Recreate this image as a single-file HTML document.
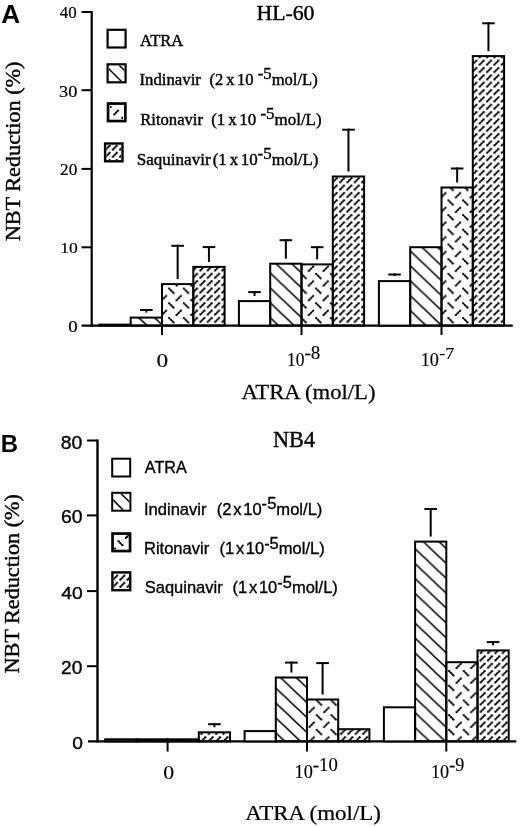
<!DOCTYPE html>
<html><head><meta charset="utf-8"><title>Figure</title>
<style>html,body{margin:0;padding:0;background:#fff;width:520px;height:827px;overflow:hidden}svg{display:block;will-change:transform}</style>
</head><body>
<svg width="520" height="827" viewBox="0 0 520 827">
<rect x="0" y="0" width="520" height="827" fill="#fff"/>
<defs>
<pattern id="pi1" patternUnits="userSpaceOnUse" x="0" y="7.00" width="15.684" height="14.900"><path d="M-2,-1.90 L17.68,16.80 M-2,13.00 L2,16.80 M13.68,-1.90 L17.68,1.90" stroke="#000" stroke-width="1.6" fill="none"/></pattern>
<pattern id="pi2" patternUnits="userSpaceOnUse" x="0" y="1.40" width="15.684" height="14.900"><path d="M-2,-1.90 L17.68,16.80 M-2,13.00 L2,16.80 M13.68,-1.90 L17.68,1.90" stroke="#000" stroke-width="1.6" fill="none"/></pattern>
<pattern id="pi3" patternUnits="userSpaceOnUse" x="0" y="10.20" width="15.684" height="14.900"><path d="M-2,-1.90 L17.68,16.80 M-2,13.00 L2,16.80 M13.68,-1.90 L17.68,1.90" stroke="#000" stroke-width="1.6" fill="none"/></pattern>
<pattern id="pr4" patternUnits="userSpaceOnUse" x="13.25" y="15.10" width="14.700" height="14.700"><path d="M1.50,6.00 L6.00,1.50" stroke="#000" stroke-width="1.4" fill="none"/><circle cx="1.50" cy="6.00" r="1.1"/><circle cx="3.75" cy="3.75" r="0.99"/><circle cx="6.00" cy="1.50" r="1.1"/><path d="M8.85,8.85 L13.35,13.35" stroke="#000" stroke-width="1.4" fill="none"/><circle cx="8.85" cy="8.85" r="1.1"/><circle cx="11.10" cy="11.10" r="0.99"/><circle cx="13.35" cy="13.35" r="1.1"/></pattern>
<pattern id="ps5" patternUnits="userSpaceOnUse" x="0.80" y="0.75" width="7.350" height="7.350"><path d="M1.20,5.10 L5.10,1.20" stroke="#000" stroke-width="1.4" fill="none"/><circle cx="1.20" cy="5.10" r="1.1"/><circle cx="3.15" cy="3.15" r="0.99"/><circle cx="5.10" cy="1.20" r="1.1"/></pattern>
<clipPath id="lc1"><rect x="108.70" y="30.90" width="15.80" height="15.50"/></clipPath>
<clipPath id="lc2"><rect x="108.70" y="65.40" width="15.80" height="15.80"/></clipPath>
<clipPath id="lc3"><rect x="109.40" y="104.90" width="14.60" height="14.80"/></clipPath>
<pattern id="ps6" patternUnits="userSpaceOnUse" x="111.70" y="144.50" width="7.200" height="7.200"><path d="M1.20,5.10 L5.10,1.20" stroke="#000" stroke-width="1.4" fill="none"/><circle cx="1.20" cy="5.10" r="1.1"/><circle cx="3.15" cy="3.15" r="0.99"/><circle cx="5.10" cy="1.20" r="1.1"/></pattern>
<clipPath id="lc4"><rect x="106.30" y="144.70" width="15.00" height="15.40"/></clipPath>
<pattern id="pi7" patternUnits="userSpaceOnUse" x="0" y="5.40" width="15.684" height="14.900"><path d="M-2,-1.90 L17.68,16.80 M-2,13.00 L2,16.80 M13.68,-1.90 L17.68,1.90" stroke="#000" stroke-width="1.6" fill="none"/></pattern>
<pattern id="pi8" patternUnits="userSpaceOnUse" x="0" y="8.80" width="15.684" height="14.900"><path d="M-2,-1.90 L17.68,16.80 M-2,13.00 L2,16.80 M13.68,-1.90 L17.68,1.90" stroke="#000" stroke-width="1.6" fill="none"/></pattern>
<pattern id="pi9" patternUnits="userSpaceOnUse" x="0" y="5.40" width="15.684" height="14.900"><path d="M-2,-1.90 L17.68,16.80 M-2,13.00 L2,16.80 M13.68,-1.90 L17.68,1.90" stroke="#000" stroke-width="1.6" fill="none"/></pattern>
<pattern id="pr10" patternUnits="userSpaceOnUse" x="13.90" y="15.40" width="14.700" height="14.700"><path d="M1.50,6.00 L6.00,1.50" stroke="#000" stroke-width="1.4" fill="none"/><circle cx="1.50" cy="6.00" r="1.1"/><circle cx="3.75" cy="3.75" r="0.99"/><circle cx="6.00" cy="1.50" r="1.1"/><path d="M8.85,8.85 L13.35,13.35" stroke="#000" stroke-width="1.4" fill="none"/><circle cx="8.85" cy="8.85" r="1.1"/><circle cx="11.10" cy="11.10" r="0.99"/><circle cx="13.35" cy="13.35" r="1.1"/></pattern>
<pattern id="ps11" patternUnits="userSpaceOnUse" x="1.75" y="1.15" width="7.350" height="7.350"><path d="M1.20,5.10 L5.10,1.20" stroke="#000" stroke-width="1.4" fill="none"/><circle cx="1.20" cy="5.10" r="1.1"/><circle cx="3.15" cy="3.15" r="0.99"/><circle cx="5.10" cy="1.20" r="1.1"/></pattern>
<clipPath id="lc5"><rect x="113.20" y="459.70" width="16.00" height="15.80"/></clipPath>
<clipPath id="lc6"><rect x="113.20" y="493.80" width="16.20" height="15.90"/></clipPath>
<clipPath id="lc7"><rect x="113.90" y="534.90" width="14.80" height="14.80"/></clipPath>
<pattern id="ps12" patternUnits="userSpaceOnUse" x="119.20" y="574.50" width="7.200" height="7.200"><path d="M1.20,5.10 L5.10,1.20" stroke="#000" stroke-width="1.4" fill="none"/><circle cx="1.20" cy="5.10" r="1.1"/><circle cx="3.15" cy="3.15" r="0.99"/><circle cx="5.10" cy="1.20" r="1.1"/></pattern>
<clipPath id="lc8"><rect x="113.60" y="573.60" width="15.40" height="15.40"/></clipPath>
</defs>
<line x1="91.70" y1="11.00" x2="91.70" y2="326.80" stroke="#000" stroke-width="2.2"/>
<line x1="81.50" y1="12.00" x2="91.70" y2="12.00" stroke="#000" stroke-width="2"/>
<line x1="81.50" y1="90.20" x2="91.70" y2="90.20" stroke="#000" stroke-width="2"/>
<line x1="81.50" y1="168.90" x2="91.70" y2="168.90" stroke="#000" stroke-width="2"/>
<line x1="81.50" y1="247.30" x2="91.70" y2="247.30" stroke="#000" stroke-width="2"/>
<line x1="81.50" y1="325.60" x2="512.80" y2="325.60" stroke="#000" stroke-width="2.4"/>
<rect x="99.40" y="324.60" width="31.30" height="1.00" fill="#fff" stroke="#000" stroke-width="2"/>
<rect x="130.70" y="317.60" width="31.30" height="8.00" fill="url(#pi1)" stroke="#000" stroke-width="2"/>
<line x1="146.35" y1="309.00" x2="146.35" y2="312.60" stroke="#000" stroke-width="2"/>
<line x1="140.05" y1="310.00" x2="152.65" y2="310.00" stroke="#000" stroke-width="2"/>
<rect x="162.00" y="284.10" width="31.30" height="41.50" fill="url(#pr4)" stroke="#000" stroke-width="2"/>
<line x1="177.65" y1="244.80" x2="177.65" y2="279.10" stroke="#000" stroke-width="2"/>
<line x1="171.35" y1="245.80" x2="183.95" y2="245.80" stroke="#000" stroke-width="2"/>
<rect x="193.30" y="266.90" width="31.30" height="58.70" fill="url(#ps5)" stroke="#000" stroke-width="2"/>
<line x1="208.95" y1="246.10" x2="208.95" y2="261.90" stroke="#000" stroke-width="2"/>
<line x1="202.65" y1="247.10" x2="215.25" y2="247.10" stroke="#000" stroke-width="2"/>
<line x1="162.00" y1="325.60" x2="162.00" y2="335.00" stroke="#000" stroke-width="2"/>
<rect x="238.90" y="301.10" width="31.30" height="24.50" fill="#fff" stroke="#000" stroke-width="2"/>
<line x1="254.55" y1="291.10" x2="254.55" y2="296.10" stroke="#000" stroke-width="2"/>
<line x1="248.25" y1="292.10" x2="260.85" y2="292.10" stroke="#000" stroke-width="2"/>
<rect x="270.20" y="263.70" width="31.30" height="61.90" fill="url(#pi2)" stroke="#000" stroke-width="2"/>
<line x1="285.85" y1="239.20" x2="285.85" y2="258.70" stroke="#000" stroke-width="2"/>
<line x1="279.55" y1="240.20" x2="292.15" y2="240.20" stroke="#000" stroke-width="2"/>
<rect x="301.50" y="264.40" width="31.30" height="61.20" fill="url(#pr4)" stroke="#000" stroke-width="2"/>
<line x1="317.15" y1="246.20" x2="317.15" y2="259.40" stroke="#000" stroke-width="2"/>
<line x1="310.85" y1="247.20" x2="323.45" y2="247.20" stroke="#000" stroke-width="2"/>
<rect x="332.80" y="176.50" width="31.30" height="149.10" fill="url(#ps5)" stroke="#000" stroke-width="2"/>
<line x1="348.45" y1="128.70" x2="348.45" y2="171.50" stroke="#000" stroke-width="2"/>
<line x1="342.15" y1="129.70" x2="354.75" y2="129.70" stroke="#000" stroke-width="2"/>
<line x1="301.50" y1="325.60" x2="301.50" y2="335.00" stroke="#000" stroke-width="2"/>
<rect x="378.90" y="281.10" width="31.30" height="44.50" fill="#fff" stroke="#000" stroke-width="2"/>
<line x1="394.55" y1="273.50" x2="394.55" y2="276.10" stroke="#000" stroke-width="2"/>
<line x1="388.25" y1="274.50" x2="400.85" y2="274.50" stroke="#000" stroke-width="2"/>
<rect x="410.20" y="247.20" width="31.30" height="78.40" fill="url(#pi3)" stroke="#000" stroke-width="2"/>
<rect x="441.50" y="187.50" width="31.30" height="138.10" fill="url(#pr4)" stroke="#000" stroke-width="2"/>
<line x1="457.15" y1="167.50" x2="457.15" y2="182.50" stroke="#000" stroke-width="2"/>
<line x1="450.85" y1="168.50" x2="463.45" y2="168.50" stroke="#000" stroke-width="2"/>
<rect x="472.80" y="56.10" width="31.30" height="269.50" fill="url(#ps5)" stroke="#000" stroke-width="2"/>
<line x1="488.45" y1="22.30" x2="488.45" y2="51.10" stroke="#000" stroke-width="2"/>
<line x1="482.15" y1="23.30" x2="494.75" y2="23.30" stroke="#000" stroke-width="2"/>
<line x1="441.50" y1="325.60" x2="441.50" y2="335.00" stroke="#000" stroke-width="2"/>
<rect x="107.60" y="29.80" width="18.00" height="17.70" fill="#fff" stroke="#000" stroke-width="2.2"/>
<rect x="107.60" y="64.30" width="18.00" height="18.00" fill="#fff" stroke="#000" stroke-width="2.2"/>
<g clip-path="url(#lc2)"><path d="M100.00,60.00 L135.00,95.00" stroke="#000" stroke-width="1.5"/><path d="M100.00,46.00 L135.00,81.00" stroke="#000" stroke-width="1.5"/></g>
<rect x="108.05" y="103.55" width="17.30" height="17.50" fill="#fff" stroke="#000" stroke-width="2.7"/>
<g clip-path="url(#lc3)"><circle cx="110.80" cy="107.00" r="1.05"/><path d="M114.20,114.50 L118.20,110.50" stroke="#000" stroke-width="1.4" fill="none"/><circle cx="114.20" cy="114.50" r="1.1"/><circle cx="116.20" cy="112.50" r="0.99"/><circle cx="118.20" cy="110.50" r="1.1"/><circle cx="122.20" cy="117.90" r="1.05"/></g>
<rect x="105.10" y="143.50" width="17.40" height="17.80" fill="#fff" stroke="#000" stroke-width="2.4"/>
<g clip-path="url(#lc4)"><rect x="100" y="140" width="30" height="30" fill="url(#ps6)"/></g>
<line x1="97.50" y1="439.50" x2="97.50" y2="742.60" stroke="#000" stroke-width="2.4"/>
<line x1="87.00" y1="440.50" x2="97.50" y2="440.50" stroke="#000" stroke-width="2"/>
<line x1="87.00" y1="515.40" x2="97.50" y2="515.40" stroke="#000" stroke-width="2"/>
<line x1="87.00" y1="591.10" x2="97.50" y2="591.10" stroke="#000" stroke-width="2"/>
<line x1="87.00" y1="666.20" x2="97.50" y2="666.20" stroke="#000" stroke-width="2"/>
<line x1="88.00" y1="741.40" x2="516.30" y2="741.40" stroke="#000" stroke-width="2.4"/>
<rect x="105.20" y="739.30" width="31.20" height="2.10" fill="#fff" stroke="#000" stroke-width="2"/>
<rect x="136.40" y="739.30" width="31.20" height="2.10" fill="url(#pi7)" stroke="#000" stroke-width="2"/>
<rect x="167.60" y="739.30" width="31.20" height="2.10" fill="url(#pr10)" stroke="#000" stroke-width="2"/>
<rect x="198.80" y="732.30" width="31.20" height="9.10" fill="url(#ps11)" stroke="#000" stroke-width="2"/>
<line x1="214.40" y1="723.20" x2="214.40" y2="727.30" stroke="#000" stroke-width="2"/>
<line x1="208.10" y1="724.20" x2="220.70" y2="724.20" stroke="#000" stroke-width="2"/>
<line x1="167.60" y1="741.40" x2="167.60" y2="751.50" stroke="#000" stroke-width="2"/>
<rect x="244.60" y="731.10" width="31.20" height="10.30" fill="#fff" stroke="#000" stroke-width="2"/>
<rect x="275.80" y="677.50" width="31.20" height="63.90" fill="url(#pi8)" stroke="#000" stroke-width="2"/>
<line x1="291.40" y1="661.60" x2="291.40" y2="672.50" stroke="#000" stroke-width="2"/>
<line x1="285.10" y1="662.60" x2="297.70" y2="662.60" stroke="#000" stroke-width="2"/>
<rect x="307.00" y="699.50" width="31.20" height="41.90" fill="url(#pr10)" stroke="#000" stroke-width="2"/>
<line x1="322.60" y1="662.10" x2="322.60" y2="694.50" stroke="#000" stroke-width="2"/>
<line x1="316.30" y1="663.10" x2="328.90" y2="663.10" stroke="#000" stroke-width="2"/>
<rect x="338.20" y="729.20" width="31.20" height="12.20" fill="url(#ps11)" stroke="#000" stroke-width="2"/>
<line x1="307.00" y1="741.40" x2="307.00" y2="751.50" stroke="#000" stroke-width="2"/>
<rect x="383.90" y="707.30" width="31.20" height="34.10" fill="#fff" stroke="#000" stroke-width="2"/>
<rect x="415.10" y="541.60" width="31.20" height="199.80" fill="url(#pi9)" stroke="#000" stroke-width="2"/>
<line x1="430.70" y1="508.00" x2="430.70" y2="536.60" stroke="#000" stroke-width="2"/>
<line x1="424.40" y1="509.00" x2="437.00" y2="509.00" stroke="#000" stroke-width="2"/>
<rect x="446.30" y="662.20" width="31.20" height="79.20" fill="url(#pr10)" stroke="#000" stroke-width="2"/>
<rect x="477.50" y="650.40" width="31.20" height="91.00" fill="url(#ps11)" stroke="#000" stroke-width="2"/>
<line x1="493.10" y1="641.10" x2="493.10" y2="645.40" stroke="#000" stroke-width="2"/>
<line x1="486.80" y1="642.10" x2="499.40" y2="642.10" stroke="#000" stroke-width="2"/>
<line x1="446.30" y1="741.40" x2="446.30" y2="751.50" stroke="#000" stroke-width="2"/>
<rect x="112.20" y="458.70" width="18.00" height="17.80" fill="#fff" stroke="#000" stroke-width="2.0"/>
<rect x="112.20" y="492.80" width="18.20" height="17.90" fill="#fff" stroke="#000" stroke-width="2.0"/>
<g clip-path="url(#lc6)"><path d="M100.00,486.90 L140.00,526.90" stroke="#000" stroke-width="1.5"/><path d="M100.00,472.50 L140.00,512.50" stroke="#000" stroke-width="1.5"/></g>
<rect x="112.55" y="533.55" width="17.50" height="17.50" fill="#fff" stroke="#000" stroke-width="2.7"/>
<g clip-path="url(#lc7)"><path d="M118.40,541.10 L122.40,545.20" stroke="#000" stroke-width="1.4" fill="none"/><circle cx="118.40" cy="541.10" r="1.1"/><circle cx="120.40" cy="543.15" r="0.99"/><circle cx="122.40" cy="545.20" r="1.1"/><path d="M125.90,537.90 L128.70,535.20" stroke="#000" stroke-width="1.4" fill="none"/><circle cx="125.90" cy="537.90" r="1.1"/><circle cx="127.30" cy="536.55" r="0.99"/><circle cx="128.70" cy="535.20" r="1.1"/><circle cx="115.00" cy="548.60" r="1.05"/></g>
<rect x="112.40" y="572.40" width="17.80" height="17.80" fill="#fff" stroke="#000" stroke-width="2.4"/>
<g clip-path="url(#lc8)"><rect x="105" y="565" width="30" height="30" fill="url(#ps12)"/></g>
<text transform="translate(1.24,22.80) scale(1.0176,1)" font-size="25.74" font-family="Liberation Sans, sans-serif" font-weight="bold">A</text>
<text transform="translate(256.40,20.30) scale(1.0071,1)" font-size="21.64" font-family="Liberation Serif, serif" stroke="#000" stroke-width="0.4">HL-60</text>
<text transform="translate(59.73,18.35) scale(1.0667,1)" font-size="15.85" font-family="Liberation Serif, serif" stroke="#000" stroke-width="0.2">40</text>
<text transform="translate(59.08,96.75) scale(1.0968,1)" font-size="16.73" font-family="Liberation Serif, serif" stroke="#000" stroke-width="0.2">30</text>
<text transform="translate(60.06,175.05) scale(1.0847,1)" font-size="15.85" font-family="Liberation Serif, serif" stroke="#000" stroke-width="0.2">20</text>
<text transform="translate(60.28,253.45) scale(1.1345,1)" font-size="15.56" font-family="Liberation Serif, serif" stroke="#000" stroke-width="0.2">10</text>
<text transform="translate(68.31,331.85) scale(1.1714,1)" font-size="16.15" font-family="Liberation Serif, serif" stroke="#000" stroke-width="0.2">0</text>
<text transform="translate(140.00,45.95) scale(1.0482,1)" font-size="15.84" font-family="Liberation Serif, serif" stroke="#000" stroke-width="0.4">ATRA</text>
<text transform="translate(139.50,85.00) scale(0.9967,1)" font-size="16.80" font-family="Liberation Serif, serif" stroke="#000" stroke-width="0.4">Indinavir</text>
<text transform="translate(140.15,124.60) scale(0.9913,1)" font-size="16.80" font-family="Liberation Serif, serif" stroke="#000" stroke-width="0.4">Ritonavir</text>
<text transform="translate(136.68,164.60) scale(1.0160,1)" font-size="16.80" font-family="Liberation Serif, serif" stroke="#000" stroke-width="0.4">Saquinavir</text>
<text transform="translate(209.51,84.80) scale(0.9889,1)" font-size="16.80" font-family="Liberation Serif, serif" stroke="#000" stroke-width="0.4">(2<tspan dx="3">x</tspan><tspan dx="2.5">10</tspan> <tspan dy="-5.5">-5</tspan><tspan dy="5.5">mol/L)</tspan></text>
<text transform="translate(211.20,124.60) scale(1.0083,1)" font-size="16.80" font-family="Liberation Serif, serif" stroke="#000" stroke-width="0.4">(1<tspan dx="3">x</tspan><tspan dx="2.5">10</tspan> <tspan dy="-5.5">-5</tspan><tspan dy="5.5">mol/L)</tspan></text>
<text transform="translate(212.70,164.60) scale(1.0043,1)" font-size="16.80" font-family="Liberation Serif, serif" stroke="#000" stroke-width="0.4">(1<tspan dx="3">x</tspan><tspan dx="2.5">10</tspan><tspan dy="-5.5">-5</tspan><tspan dy="5.5">mol/L)</tspan></text>
<text transform="translate(156.38,366.75) scale(1.2250,1)" font-size="19.00" font-family="Liberation Serif, serif" stroke="#000" stroke-width="0.15">0</text>
<text transform="translate(287.09,366.45) scale(0.9394,1)" font-size="18.56" font-family="Liberation Serif, serif" stroke="#000" stroke-width="0.15">10</text>
<text transform="translate(304.48,358.85) scale(1.0500,1)" font-size="18.07" font-family="Liberation Serif, serif" stroke="#000" stroke-width="0.15">-8</text>
<text transform="translate(420.63,366.45) scale(0.9818,1)" font-size="18.56" font-family="Liberation Serif, serif" stroke="#000" stroke-width="0.15">10</text>
<text transform="translate(439.28,358.60) scale(1.0370,1)" font-size="17.25" font-family="Liberation Serif, serif" stroke="#000" stroke-width="0.15">-7</text>
<text transform="translate(241.50,399.40) scale(1.0398,1)" font-size="21.80" font-family="Liberation Serif, serif" stroke="#000" stroke-width="0.25">ATRA (mol/L)</text>
<text transform="translate(0.76,452.30) scale(1.0246,1)" font-size="23.40" font-family="Liberation Sans, sans-serif" font-weight="bold">B</text>
<text transform="translate(273.01,447.05) scale(0.9881,1)" font-size="22.59" font-family="Liberation Serif, serif" stroke="#000" stroke-width="0.4">NB4</text>
<text transform="translate(60.65,448.55) scale(1.1081,1)" font-size="17.50" font-family="Liberation Sans, sans-serif" stroke="#000" stroke-width="0.35">80</text>
<text transform="translate(61.09,523.35) scale(1.0811,1)" font-size="17.92" font-family="Liberation Sans, sans-serif" stroke="#000" stroke-width="0.35">60</text>
<text transform="translate(61.22,598.55) scale(1.1389,1)" font-size="16.94" font-family="Liberation Sans, sans-serif" stroke="#000" stroke-width="0.35">40</text>
<text transform="translate(61.08,673.75) scale(1.0959,1)" font-size="17.50" font-family="Liberation Sans, sans-serif" stroke="#000" stroke-width="0.35">20</text>
<text transform="translate(72.24,749.25) scale(1.1176,1)" font-size="17.22" font-family="Liberation Sans, sans-serif" stroke="#000" stroke-width="0.35">0</text>
<text transform="translate(144.84,473.25) scale(0.9400,1)" font-size="17.19" font-family="Liberation Sans, sans-serif" stroke="#000" stroke-width="0.35">ATRA</text>
<text transform="translate(143.95,514.50) scale(0.9976,1)" font-size="16.60" font-family="Liberation Sans, sans-serif" stroke="#000" stroke-width="0.35">Indinavir</text>
<text transform="translate(143.95,553.90) scale(0.9969,1)" font-size="16.60" font-family="Liberation Sans, sans-serif" stroke="#000" stroke-width="0.35">Ritonavir</text>
<text transform="translate(144.70,593.00) scale(0.9942,1)" font-size="16.60" font-family="Liberation Sans, sans-serif" stroke="#000" stroke-width="0.35">Saquinavir</text>
<text transform="translate(216.75,514.60) scale(0.9986,1)" font-size="16.60" font-family="Liberation Sans, sans-serif" stroke="#000" stroke-width="0.35">(2<tspan dx="1.8">x</tspan><tspan dx="1.6">10</tspan><tspan dy="-5.3">-5</tspan><tspan dy="5.3">mol/L)</tspan></text>
<text transform="translate(219.45,553.90) scale(0.9947,1)" font-size="16.60" font-family="Liberation Sans, sans-serif" stroke="#000" stroke-width="0.35">(1<tspan dx="1.8">x</tspan><tspan dx="1.6">10</tspan><tspan dy="-5.3">-5</tspan><tspan dy="5.3">mol/L)</tspan></text>
<text transform="translate(232.55,593.00) scale(0.9957,1)" font-size="16.60" font-family="Liberation Sans, sans-serif" stroke="#000" stroke-width="0.35">(1<tspan dx="1.8">x</tspan><tspan dx="1.6">10</tspan><tspan dy="-5.3">-5</tspan><tspan dy="5.3">mol/L)</tspan></text>
<text transform="translate(163.31,778.55) scale(1.1750,1)" font-size="18.48" font-family="Liberation Serif, serif" stroke="#000" stroke-width="0.15">0</text>
<text transform="translate(294.60,778.35) scale(0.9969,1)" font-size="18.33" font-family="Liberation Serif, serif" stroke="#000" stroke-width="0.15">10</text>
<text transform="translate(312.87,771.05) scale(1.0533,1)" font-size="17.78" font-family="Liberation Serif, serif" stroke="#000" stroke-width="0.15">-10</text>
<text transform="translate(431.01,778.35) scale(0.9908,1)" font-size="18.33" font-family="Liberation Serif, serif" stroke="#000" stroke-width="0.15">10</text>
<text transform="translate(449.29,771.05) scale(1.0182,1)" font-size="17.78" font-family="Liberation Serif, serif" stroke="#000" stroke-width="0.15">-9</text>
<text transform="translate(245.20,820.40) scale(1.0531,1)" font-size="21.80" font-family="Liberation Serif, serif" stroke="#000" stroke-width="0.25">ATRA (mol/L)</text>
<text transform="translate(20.00,241.36) rotate(-90) scale(1.0111,1)" font-size="22" font-family="Liberation Serif, serif" stroke="#000" stroke-width="0.4">NBT Reduction (%)</text>
<text transform="translate(19.30,673.46) rotate(-90) scale(1.0082,1)" font-size="22" font-family="Liberation Serif, serif" stroke="#000" stroke-width="0.4">NBT Reduction (%)</text>
</svg>
</body></html>
